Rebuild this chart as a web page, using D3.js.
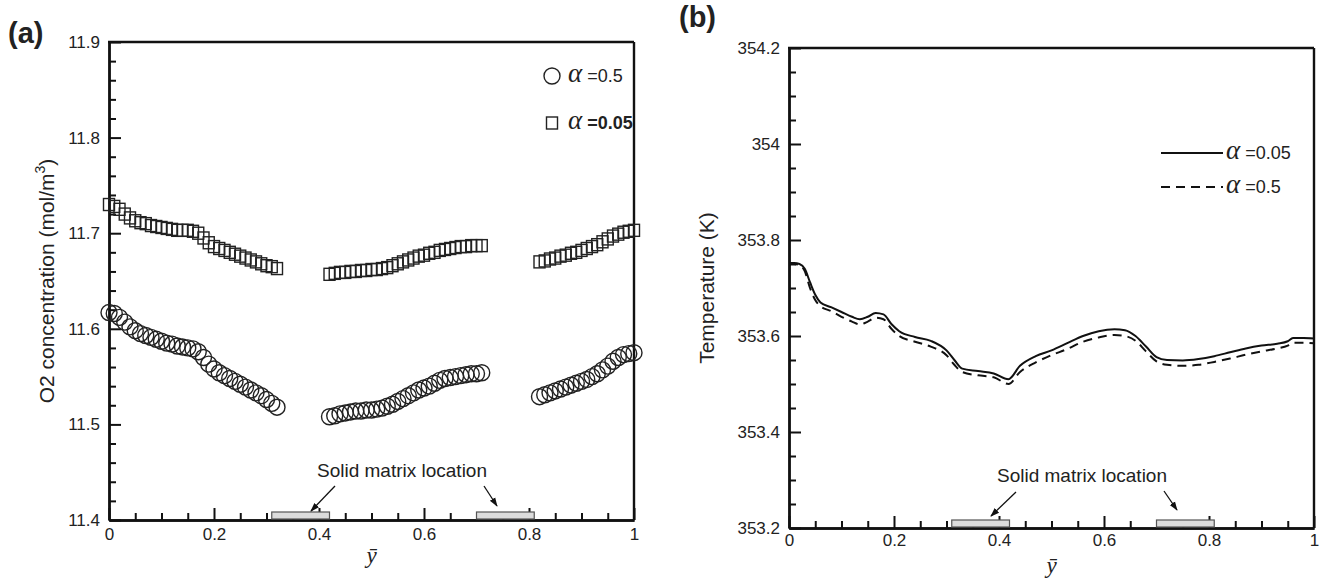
<!DOCTYPE html>
<html>
<head>
<meta charset="utf-8">
<script src="https://cdn.jsdelivr.net/npm/d3@7"></script>
<style>
  html, body { margin: 0; padding: 0; background: #fff; }
  svg text { font-family: "Liberation Sans", Arial, sans-serif; fill: #222; }
</style>
</head>
<body>
<svg id="chart" width="1325" height="581"></svg>
<script>
// ---------------- DATA ----------------
// Panel (a): O2 concentration, three segments (gaps at solid matrix)
const yBarA = [0.00,0.01,0.02,0.03,0.04,0.05,0.06,0.07,0.08,0.09,0.10,0.11,0.12,0.13,0.14,0.15,0.16,0.17,0.18,0.19,0.20,0.21,0.22,0.23,0.24,0.25,0.26,0.27,0.28,0.29,0.30,0.31,0.32,
  0.42,0.43,0.44,0.45,0.46,0.47,0.48,0.49,0.50,0.51,0.52,0.53,0.54,0.55,0.56,0.57,0.58,0.59,0.60,0.61,0.62,0.63,0.64,0.65,0.66,0.67,0.68,0.69,0.70,0.71,
  0.82,0.83,0.84,0.85,0.86,0.87,0.88,0.89,0.90,0.91,0.92,0.93,0.94,0.95,0.96,0.97,0.98,0.99,1.00];
const o2Alpha005 = [11.730,11.728,11.725,11.720,11.716,11.713,11.711,11.710,11.708,11.707,11.706,11.705,11.704,11.703,11.703,11.703,11.702,11.700,11.695,11.690,11.686,11.684,11.682,11.680,11.678,11.676,11.674,11.672,11.670,11.668,11.666,11.665,11.663,
  11.657,11.658,11.659,11.659,11.660,11.660,11.661,11.661,11.662,11.662,11.663,11.664,11.666,11.668,11.670,11.672,11.674,11.676,11.677,11.679,11.680,11.682,11.683,11.684,11.685,11.686,11.686,11.687,11.687,11.687,
  11.670,11.671,11.673,11.674,11.676,11.677,11.679,11.680,11.682,11.684,11.686,11.688,11.691,11.694,11.697,11.699,11.701,11.702,11.703];
const o2Alpha05 = [11.617,11.616,11.612,11.607,11.602,11.598,11.595,11.593,11.591,11.589,11.587,11.585,11.584,11.582,11.581,11.580,11.579,11.576,11.570,11.563,11.558,11.554,11.551,11.548,11.545,11.542,11.539,11.536,11.533,11.530,11.526,11.522,11.518,
  11.508,11.509,11.511,11.512,11.513,11.514,11.514,11.515,11.515,11.516,11.517,11.519,11.521,11.524,11.527,11.530,11.533,11.536,11.538,11.540,11.543,11.546,11.548,11.549,11.550,11.551,11.552,11.553,11.553,11.554,
  11.529,11.531,11.533,11.535,11.537,11.539,11.541,11.543,11.545,11.547,11.550,11.553,11.557,11.561,11.566,11.570,11.573,11.574,11.575];

// Panel (b): temperature
const yBarB = [0,0.01,0.02,0.03,0.04,0.05,0.06,0.08,0.10,0.12,0.135,0.15,0.165,0.18,0.195,0.21,0.24,0.27,0.30,0.315,0.33,0.36,0.39,0.418,0.44,0.47,0.50,0.53,0.56,0.59,0.62,0.64,0.66,0.68,0.70,0.72,0.75,0.78,0.81,0.84,0.87,0.90,0.93,0.95,0.96,0.98,1.0];
const tempAlpha005 = [353.752,353.752,353.750,353.740,353.712,353.686,353.670,353.660,353.650,353.640,353.635,353.640,353.648,353.645,353.625,353.610,353.598,353.590,353.570,353.550,353.532,353.527,353.522,353.510,353.538,353.558,353.570,353.585,353.600,353.610,353.614,353.612,353.600,353.578,353.556,353.550,353.549,353.552,353.558,353.566,353.574,353.580,353.584,353.589,353.596,353.596,353.595];
const tempAlpha05 = [353.750,353.750,353.748,353.735,353.700,353.675,353.662,353.652,353.640,353.630,353.624,353.630,353.638,353.635,353.615,353.600,353.588,353.578,353.560,353.540,353.525,353.518,353.514,353.500,353.525,353.545,353.560,353.573,353.588,353.597,353.602,353.600,353.590,353.568,353.547,353.540,353.538,353.540,353.546,353.553,353.561,353.568,353.574,353.580,353.586,353.586,353.585];

// Solid matrix locations
const matrixStart = [0.31, 0.70];
const matrixEnd   = [0.42, 0.81];

// Ticks
const xTicks = [0, 0.2, 0.4, 0.6, 0.8, 1];
const xTickLabels = ["0", "0.2", "0.4", "0.6", "0.8", "1"];
const yTicksA = [11.4, 11.5, 11.6, 11.7, 11.8, 11.9];
const yTickLabelsA = ["11.4", "11.5", "11.6", "11.7", "11.8", "11.9"];
const yTicksB = [353.2, 353.4, 353.6, 353.8, 354.0, 354.2];
const yTickLabelsB = ["353.2", "353.4", "353.6", "353.8", "354", "354.2"];

// ---------------- DRAWING ----------------
const svg = d3.select("#chart");
const defs = svg.append("defs");
defs.append("marker").attr("id", "arrow").attr("viewBox", "0 0 10 10")
  .attr("refX", 9).attr("refY", 5).attr("markerWidth", 7).attr("markerHeight", 7)
  .attr("orient", "auto-start-reverse")
  .append("path").attr("d", "M0,1.5 L10,5 L0,8.5 Z").attr("fill", "#111");

function range(a, b, step) {
  const out = [];
  for (let v = a; v <= b + 1e-9; v += step) out.push(+v.toFixed(4));
  return out;
}

function drawFrame(g, x, y, opts) {
  const [x0, x1] = x.range();
  const [yb, yt] = y.range();
  const minorX = range(0, 1, 0.05).filter(v => !xTicks.some(t => Math.abs(t - v) < 1e-6));
  const minorY = range(opts.yMin, opts.yMax, opts.yMinorStep).filter(v => !opts.yTicks.some(t => Math.abs(t - v) < 1e-6));

  const gx = g.append("g").attr("transform", `translate(0,${yb})`)
    .call(d3.axisBottom(x).tickValues(xTicks).tickFormat((d, i) => xTickLabels[i])
      .tickSizeInner(-12).tickSizeOuter(0).tickPadding(opts.xPad));
  const gxm = g.append("g").attr("transform", `translate(0,${yb})`)
    .call(d3.axisBottom(x).tickValues(minorX).tickFormat("").tickSizeInner(-7).tickSizeOuter(0));
  const gy = g.append("g").attr("transform", `translate(${x0},0)`)
    .call(d3.axisLeft(y).tickValues(opts.yTicks).tickFormat((d, i) => opts.yLabels[i])
      .tickSizeInner(-12).tickSizeOuter(0).tickPadding(9));
  const gym = g.append("g").attr("transform", `translate(${x0},0)`)
    .call(d3.axisLeft(y).tickValues(minorY).tickFormat("").tickSizeInner(-7).tickSizeOuter(0));
  [gx, gxm, gy, gym].forEach(a => {
    a.select(".domain").attr("stroke", "#111").attr("stroke-width", 2.4);
    a.selectAll(".tick line").attr("stroke", "#111").attr("stroke-width", 2);
    a.selectAll(".tick text").attr("font-size", 17).attr("fill", "#222")
      .attr("font-family", '"Liberation Sans", Arial, sans-serif');
  });
  g.append("line").attr("x1", x0 - 1).attr("x2", x1).attr("y1", yt).attr("y2", yt)
    .attr("stroke", "#111").attr("stroke-width", 2.4);
  g.append("line").attr("x1", x1).attr("x2", x1).attr("y1", yt).attr("y2", yb)
    .attr("stroke", "#111").attr("stroke-width", 2.4);

  g.append("text").attr("x", (x0 + x1) / 2).attr("y", opts.xLabelY)
    .attr("text-anchor", "middle").attr("font-size", 23)
    .style("font-family", '"Liberation Serif", "Times New Roman", serif')
    .style("font-style", "italic").text("\u0233");
}

function drawMatrix(g, x, y, textX, textY, arrows) {
  const yb = y.range()[0];
  g.selectAll("rect.matrix").data(matrixStart).join("rect").attr("class", "matrix")
    .attr("x", (d) => x(d)).attr("width", (d, i) => x(matrixEnd[i]) - x(d))
    .attr("y", yb - 8).attr("height", 7)
    .attr("fill", "#dcdcdc").attr("stroke", "#555").attr("stroke-width", 1.2);
  g.append("text").attr("x", textX).attr("y", textY).attr("text-anchor", "middle")
    .attr("font-size", 19).text("Solid matrix location");
  arrows.forEach(a => {
    g.append("line").attr("x1", a[0]).attr("y1", a[1]).attr("x2", a[2]).attr("y2", a[3])
      .attr("stroke", "#111").attr("stroke-width", 1.3).attr("marker-end", "url(#arrow)");
  });
}

function legendText(g, x, yv, val, bold) {
  const t = g.append("text").attr("x", x).attr("y", yv);
  t.append("tspan").text("α").attr("font-size", 27).style("font-style", "italic")
    .style("font-family", '"Liberation Serif", "Times New Roman", serif');
  t.append("tspan").text(" =" + val).attr("font-size", 18).attr("font-weight", bold ? "bold" : "normal");
}

// ---- Panel (a)
const gA = svg.append("g");
const xA = d3.scaleLinear().domain([0, 1]).range([109, 634]);
const yA = d3.scaleLinear().domain([11.4, 11.9]).range([520, 42]);
drawFrame(gA, xA, yA, { yMin: 11.4, yMax: 11.9, yMinorStep: 0.02, yTicks: yTicksA, yLabels: yTickLabelsA, xPad: 8, xLabelY: 563 });

gA.append("g").selectAll("circle").data(yBarA).join("circle")
  .attr("cx", d => xA(d)).attr("cy", (d, i) => yA(o2Alpha05[i])).attr("r", 8)
  .attr("fill", "none").attr("stroke", "#222").attr("stroke-width", 1.4);
gA.append("g").selectAll("rect").data(yBarA).join("rect")
  .attr("x", d => xA(d) - 5.5).attr("y", (d, i) => yA(o2Alpha005[i]) - 6)
  .attr("width", 11).attr("height", 12)
  .attr("fill", "none").attr("stroke", "#222").attr("stroke-width", 1.4);

drawMatrix(gA, xA, yA, 402, 477, [[335, 486, 311, 511], [484, 486, 497, 506]]);

gA.append("text").attr("transform", "translate(54,281) rotate(-90)").attr("text-anchor", "middle")
  .attr("font-size", 21)
  .call(t => { t.append("tspan").text("O2 concentration (mol/m");
               t.append("tspan").text("3").attr("font-size", 14).attr("dy", -9);
               t.append("tspan").text(")").attr("dy", 9); });
svg.append("text").attr("x", 8).attr("y", 43).attr("font-size", 29).attr("font-weight", "bold").text("(a)");

const legA = gA.append("g");
legA.append("circle").attr("cx", 552).attr("cy", 76).attr("r", 8).attr("fill", "none").attr("stroke", "#222").attr("stroke-width", 1.4);
legA.append("rect").attr("x", 546.5).attr("y", 117).attr("width", 11).attr("height", 12).attr("fill", "none").attr("stroke", "#222").attr("stroke-width", 1.4);
legendText(legA, 568, 82, "0.5", false);
legendText(legA, 568, 129, "0.05", true);

// ---- Panel (b)
const gB = svg.append("g");
const xB = d3.scaleLinear().domain([0, 1]).range([789, 1314]);
const yB = d3.scaleLinear().domain([353.2, 354.2]).range([528, 48]);
drawFrame(gB, xB, yB, { yMin: 353.2, yMax: 354.2, yMinorStep: 0.05, yTicks: yTicksB, yLabels: yTickLabelsB, xPad: 6, xLabelY: 573 });

const lineB = (vals) => d3.line().x(d => xB(d)).y((d, i) => yB(vals[i])).curve(d3.curveMonotoneX);
gB.append("path").datum(yBarB).attr("d", lineB(tempAlpha05))
  .attr("fill", "none").attr("stroke", "#111").attr("stroke-width", 2).attr("stroke-dasharray", "9,6");
gB.append("path").datum(yBarB).attr("d", lineB(tempAlpha005))
  .attr("fill", "none").attr("stroke", "#111").attr("stroke-width", 2);

drawMatrix(gB, xB, yB, 1082, 482, [[1016, 492, 991, 516], [1164, 491, 1177, 510]]);

gB.append("text").attr("transform", "translate(714,288) rotate(-90)").attr("text-anchor", "middle")
  .attr("font-size", 21).text("Temperature (K)");
svg.append("text").attr("x", 679).attr("y", 27).attr("font-size", 29).attr("font-weight", "bold").text("(b)");

const legB = gB.append("g");
legB.append("line").attr("x1", 1161).attr("x2", 1223).attr("y1", 153).attr("y2", 153).attr("stroke", "#111").attr("stroke-width", 2);
legB.append("line").attr("x1", 1161).attr("x2", 1223).attr("y1", 187).attr("y2", 187).attr("stroke", "#111").attr("stroke-width", 2).attr("stroke-dasharray", "9,6");
legendText(legB, 1226, 159, "0.05", false);
legendText(legB, 1226, 193, "0.5", false);
</script>
</body>
</html>
